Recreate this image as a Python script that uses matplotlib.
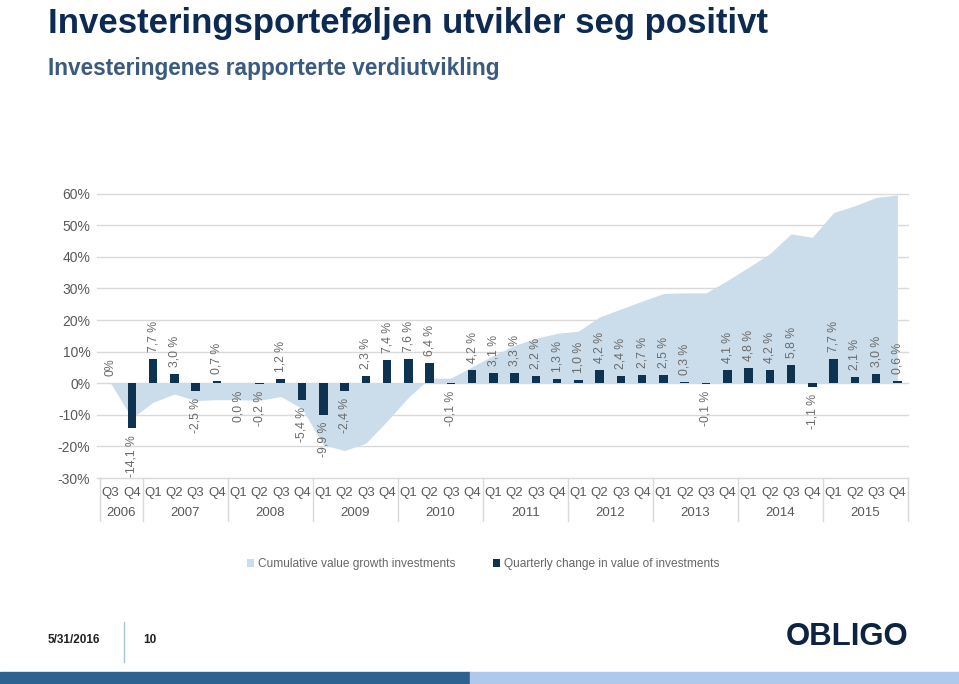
import matplotlib
matplotlib.use("Agg")
import matplotlib.pyplot as plt
import matplotlib.transforms as mtransforms
from matplotlib.patches import Patch, Rectangle
from matplotlib.lines import Line2D
import numpy as np

plt.rcParams['font.family'] = ['Liberation Sans', 'DejaVu Sans']

quarters = ["Q3", "Q4"] + ["Q1", "Q2", "Q3", "Q4"] * 9
years = ["2006", "2007", "2008", "2009", "2010", "2011", "2012", "2013", "2014", "2015"]
year_sizes = [2, 4, 4, 4, 4, 4, 4, 4, 4, 4]

quarterly = [0.0, -14.1, 7.7, 3.0, -2.5, 0.7, 0.0, -0.2, 1.2, -5.4,
             -9.9, -2.4, 2.3, 7.4, 7.6, 6.4, -0.1, 4.2, 3.1, 3.3,
             2.2, 1.3, 1.0, 4.2, 2.4, 2.7, 2.5, 0.3, -0.1, 4.1,
             4.8, 4.2, 5.8, -1.1, 7.7, 2.1, 3.0, 0.6]
bar_labels = ["0%", "-14,1 %", "7,7 %", "3,0 %", "-2,5 %", "0,7 %", "0,0 %", "-0,2 %", "1,2 %", "-5,4 %",
              "-9,9 %", "-2,4 %", "2,3 %", "7,4 %", "7,6 %", "6,4 %", "-0,1 %", "4,2 %", "3,1 %", "3,3 %",
              "2,2 %", "1,3 %", "1,0 %", "4,2 %", "2,4 %", "2,7 %", "2,5 %", "0,3 %", "-0,1 %", "4,1 %",
              "4,8 %", "4,2 %", "5,8 %", "-1,1 %", "7,7 %", "2,1 %", "3,0 %", "0,6 %"]
label_above = [True, False, True, True, False, True, False, False, True, False,
               False, False, True, True, True, True, False, True, True, True,
               True, True, True, True, True, True, True, True, False, True,
               True, True, True, False, True, True, True, True]
cumulative = [0.0, -11.0, -6.0, -3.4, -5.5, -5.2, -5.2, -5.4, -4.2, -8.0,
              -19.5, -21.3, -19.0, -12.0, -4.5, 1.6, 1.6, 5.2, 8.8, 12.0,
              14.2, 15.8, 16.5, 21.0, 23.5, 26.0, 28.4, 28.6, 28.6, 32.5,
              36.7, 41.0, 47.3, 46.2, 54.0, 56.2, 58.8, 59.6]
yticks = [-30, -20, -10, 0, 10, 20, 30, 40, 50, 60]

title = "Investeringsporteføljen utvikler seg positivt"
subtitle = "Investeringenes rapporterte verdiutvikling"
legend_labels = ["Cumulative value growth investments", "Quarterly change in value of investments"]

AREA = "#cbdcea"
BAR = "#0e3350"
GRAY = "#6a6a6a"
GRID = "#d9d9d9"
NAVY = "#0d2b52"

W, H = 959, 684
fig = plt.figure(figsize=(W / 100, H / 100), dpi=100)
ax = fig.add_axes([100 / W, 1 - 478 / H, 808 / W, (478 - 193.7) / H])

x = np.arange(len(quarterly))
ax.fill_between(x, 0, cumulative, color=AREA, linewidth=0, zorder=1)
ax.bar(x, quarterly, width=0.4, color=BAR, zorder=3)

for xi, v, lab, up in zip(x, quarterly, bar_labels, label_above):
    if up:
        ax.annotate(lab, (xi, max(v, 0)), xytext=(0, 5), textcoords="offset points",
                    rotation=90, ha="center", va="bottom", fontsize=8.8, color=GRAY, zorder=4)
    else:
        ax.annotate(lab, (xi, min(v, 0)), xytext=(0, -5), textcoords="offset points",
                    rotation=90, ha="center", va="top", fontsize=8.8, color=GRAY, zorder=4)

ax.set_xlim(-0.5, len(quarterly) - 0.5)
ax.set_ylim(-30, 60)
ax.set_yticks(yticks)
ax.set_yticklabels([f"{t}%" for t in yticks], fontsize=10, color="#595959")
ax.tick_params(axis="y", length=0, pad=7)
ax.set_xticks([])
for s in ax.spines.values():
    s.set_visible(False)
for t in yticks:
    ax.axhline(t, color=GRID, linewidth=1, zorder=0, xmin=-0.004, xmax=1.0, clip_on=False)

# category table below axis
trans = mtransforms.blended_transform_factory(ax.transData, ax.transAxes)
ah = 478 - 193.7
for xi, q in zip(x, quarters):
    ax.text(xi, -15 / ah, q, transform=trans, ha="center", va="center", fontsize=9.5, color="#595959")
start = 0
bounds = [-0.5]
for yr, n in zip(years, year_sizes):
    center = start + (n - 1) / 2
    ax.text(center, -35 / ah, yr, transform=trans, ha="center", va="center", fontsize=9.5, color="#595959")
    start += n
    bounds.append(start - 0.5)
for b in bounds:
    ax.add_line(Line2D([b, b], [0, -43 / ah], transform=trans, color=GRID, linewidth=1, clip_on=False))

# titles
fig.text(48 / W, 1 - 33 / H, title, fontsize=25, fontweight="bold", color=NAVY, va="baseline")
fig.text(48 / W, 1 - 75 / H, subtitle, fontsize=16.3, fontweight="bold", color="#3b5a80", va="baseline")

# legend
handles = [Patch(facecolor=AREA, edgecolor="none"), Patch(facecolor=BAR, edgecolor="none")]
fig.legend(handles, legend_labels, loc="center", bbox_to_anchor=(483 / W, 1 - 564 / H), ncol=2,
           frameon=False, fontsize=8.6, labelcolor="#666666", handlelength=0.6, handleheight=0.6,
           handletextpad=0.3, columnspacing=3.2)

# footer
fig.text(48 / W, 1 - 640 / H, "5/31/2016", fontsize=8.5, fontweight="bold", color="#222222", va="center")
fig.text(143 / W, 1 - 640 / H, "10", fontsize=8.5, fontweight="bold", color="#222222", va="center")
fig.add_artist(Line2D([124 / W, 124 / W], [1 - 622 / H, 1 - 662 / H], color="#a6c3e0", linewidth=1))
fig.text(908 / W, 1 - 637 / H, "OBLIGO", fontsize=22.4, fontweight="bold", color="#0d2342", va="center", ha="right")
fig.add_artist(Rectangle((0, 0), 470 / W, 12 / H, transform=fig.transFigure, color="#2e6391"))
fig.add_artist(Rectangle((470 / W, 0), 1 - 470 / W, 12 / H, transform=fig.transFigure, color="#aec9ec"))

fig.savefig("out.png", dpi=100)
